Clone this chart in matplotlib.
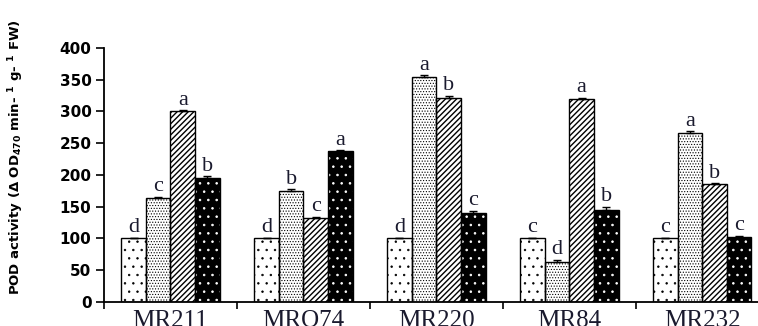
import numpy as np
import matplotlib
matplotlib.use('Agg')
import matplotlib.pyplot as plt

# Donnees
cultivars = ['MR211', 'MRO74', 'MR220', 'MR84', 'MR232']
t1 = [100, 100, 100, 100, 100]
t2 = [163, 175, 355, 63, 266]
t3 = [300, 132, 322, 320, 185]
t4 = [195, 237, 140, 145, 102]
err1 = [1, 1, 1, 1, 1]
err2 = [2, 2, 2, 3, 3]
err3 = [2, 2, 3, 2, 2]
err4 = [3, 2, 3, 5, 2]
lettres1 = ['d', 'd', 'd', 'c', 'c']
lettres2 = ['c', 'b', 'a', 'd', 'a']
lettres3 = ['a', 'c', 'b', 'a', 'b']
lettres4 = ['b', 'a', 'c', 'b', 'c']

plt.rcParams['mathtext.fontset'] = 'custom'
plt.rcParams['mathtext.rm'] = 'DejaVu Sans:bold'
plt.rcParams['mathtext.bf'] = 'DejaVu Sans:bold'
plt.rcParams['mathtext.default'] = 'bf'

fig = plt.figure(figsize=(7.58, 3.26), dpi=100)
ax = fig.add_axes([0.1372, 0.0745, 0.877, 0.778])

x = np.arange(len(cultivars))
w = 0.185
# (valeurs, erreurs, lettres, fond, motif, couleur motif, epaisseur motif)
series = [
    (t1, err1, lettres1, 'white', '..', 'black', 0.5),
    (t2, err2, lettres2, 'white', '......', 'black', 0.5),
    (t3, err3, lettres3, 'white', '//////', 'black', 1.0),
    (t4, err4, lettres4, 'black', '..', 'white', 0.6),
]
for i, (vals, errs, lets, fc, hatch, hc, hlw) in enumerate(series):
    pos = x + (i - 1.5) * w
    with plt.rc_context({'hatch.linewidth': hlw}):
        ax.bar(pos, vals, w, color=fc, hatch=hatch, edgecolor=hc,
               linewidth=0, zorder=2)
    # contour noir
    ax.bar(pos, vals, w, fill=False, edgecolor='black', linewidth=1.0, zorder=3)
    ax.errorbar(pos, vals, yerr=[np.zeros(len(errs)), errs], fmt='none',
                ecolor='black', elinewidth=1, capsize=3, capthick=1, zorder=4)
    for p, v, e, l in zip(pos, vals, errs, lets):
        ax.text(p, v + e + 1, l, ha='center', va='bottom', fontsize=16,
                family='Liberation Serif', color='#1a1a2e')

ax.set_xlim(-0.5, 4.5)
ax.set_ylim(0, 400)
ax.set_yticks(np.arange(0, 401, 50))
ax.set_yticklabels([str(v) for v in range(0, 401, 50)], fontsize=11,
                   fontweight='bold', family='DejaVu Sans')
ax.set_xticks(x)
ax.set_xticklabels(cultivars, fontsize=18, family='Liberation Serif',
                   color='#1a1a2e')
ax.set_xticks(np.arange(-0.5, 5, 1), minor=True)
ax.tick_params(axis='x', which='major', length=0, pad=6)
ax.tick_params(axis='x', which='minor', length=5, width=1.2, direction='out')
ax.tick_params(axis='y', length=6, width=1.2, direction='out', pad=3)
for s in ['top', 'right']:
    ax.spines[s].set_visible(False)
for s in ['left', 'bottom']:
    ax.spines[s].set_linewidth(1.3)
ax.spines['bottom'].set_clip_on(False)

ax.set_ylabel(r'POD activity ($\Delta$ OD$_{470}$ min- $^{1}$ g- $^{1}$ FW)',
              fontsize=9.5, fontweight='bold', family='DejaVu Sans')
ax.yaxis.set_label_coords(-0.118, 0.57)

plt.savefig('out.png', dpi=100)
